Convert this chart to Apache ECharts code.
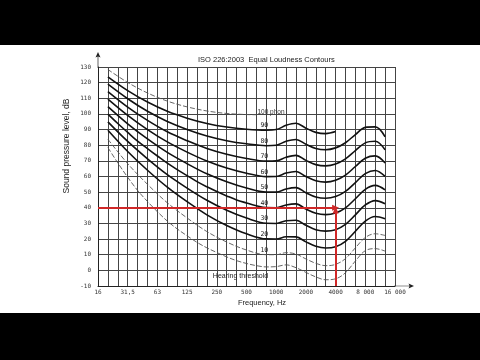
<!DOCTYPE html>
<html><head><meta charset="utf-8">
<script src="https://cdn.jsdelivr.net/npm/echarts@6/dist/echarts.min.js"></script>
<style>
html,body{margin:0;padding:0;background:#000;}
#wrap{position:relative;width:480px;height:360px;background:#000;overflow:hidden;}
#paper{position:absolute;left:0;top:45px;width:480px;height:268px;background:#fff;}
#chart{position:absolute;left:0;top:0;width:480px;height:360px;}
</style></head><body>
<div id="wrap"><div id="paper"></div><div id="chart"></div></div>
<script>
const N = null;
const frequencies = ['16','20','25','31.5','40','50','63','80','100','125','160','200','250','315','400','500','630','800','1000','1250','1600','2000','2500','3150','4000','5000','6300','8000','10000','12500','16000'];
const xTickFreqs  = ['16','31.5','63','125','250','500','1000','2000','4000','8000','16000'];
const xTickLabels = ['16','31,5','63','125','250','500','1000','2000','4000','8 000','16 000'];

const threshold = [N,78.5,68.7,59.5,51.1,44.0,37.5,31.5,26.5,22.1,17.9,14.4,11.4,8.6,6.2,4.4,3.0,2.2,2.4,3.5,1.7,-1.3,-4.2,-6.0,-5.4,-1.5,6.0,12.6,13.9,12.3,N];
const phon10  = [N,83.8,N,68.2,N,55.0,N,43.2,N,33.5,N,24.8,N,18.1,N,13.0,N,10.0,10.0,11.3,10.4,7.3,4.5,3.0,3.8,7.5,14.4,21.0,23.4,22.3,N];
const phon20  = [N,89.6,N,76.0,N,64.0,N,53.2,N,43.9,N,35.5,N,28.7,N,23.4,N,20.1,20.0,21.5,21.4,18.2,15.4,14.3,15.1,18.6,25.0,31.5,34.4,33.0,N];
const phon30  = [N,94.9,N,82.4,N,71.3,N,61.2,N,52.6,N,44.8,N,38.4,N,33.4,N,30.1,30.0,31.7,32.0,28.8,26.0,25.1,26.0,29.4,35.5,41.8,44.6,42.6,N];
const phon40  = [N,99.9,93.9,88.2,82.6,77.8,73.1,68.5,64.4,60.6,56.7,53.4,50.4,47.6,45.0,43.1,41.3,40.1,40.0,41.8,42.5,39.2,36.5,35.6,36.7,40.0,45.8,51.8,54.3,51.5,N];
const phon50  = [N,104.7,N,93.7,N,84.0,N,75.4,N,68.2,N,61.7,N,56.6,N,52.6,N,50.0,50.0,52.0,52.9,49.6,46.9,46.1,47.2,50.5,56.1,61.8,63.8,60.1,N];
const phon60  = [N,109.5,N,99.1,N,90.0,N,82.1,N,75.6,N,69.9,N,65.4,N,62.1,N,59.9,60.0,62.2,63.2,60.0,57.3,56.4,57.6,60.9,66.4,71.7,73.2,68.6,N];
const phon70  = [N,114.3,N,104.4,N,95.9,N,88.6,N,82.9,N,77.9,N,74.2,N,71.5,N,69.8,70.0,72.3,73.5,70.3,67.6,66.8,68.0,71.3,76.6,81.5,82.5,77.0,N];
const phon80  = [N,119.0,N,109.7,N,101.7,N,95.2,N,90.1,N,85.9,N,82.9,N,80.9,N,79.7,80.0,82.5,83.7,80.6,77.9,77.1,78.3,81.6,86.8,91.4,91.7,85.4,N];
const phon90  = [N,123.7,N,114.9,N,107.6,N,101.7,N,97.3,N,93.9,N,91.6,N,90.2,N,89.6,90.0,92.7,94.0,90.9,88.2,87.4,88.7,N,N,N,N,N,N];
const phon100 = [N,128.4,N,120.1,N,113.4,N,108.2,N,104.5,N,101.9,N,100.3,N,99.6,99.5,N,N,N,N,N,N,N,N,N,N,N,N,N,N];

const markerLevel = 40;
const markerFreq = '4000';
const markerStartFreq = '16';
const markerTip = 38.6;

const curves = [
  {name:'Hearing threshold', data:threshold, thin:true, at:'500', text:'Hearing threshold', kind:'thr'},
  {name:'10 phon', data:phon10, thin:true, at:'800', text:'10', kind:'ph'},
  {name:'20 phon', data:phon20, thin:false, at:'800', text:'20', kind:'ph'},
  {name:'30 phon', data:phon30, thin:false, at:'800', text:'30', kind:'ph'},
  {name:'40 phon', data:phon40, thin:false, at:'800', text:'40', kind:'ph'},
  {name:'50 phon', data:phon50, thin:false, at:'800', text:'50', kind:'ph'},
  {name:'60 phon', data:phon60, thin:false, at:'800', text:'60', kind:'ph'},
  {name:'70 phon', data:phon70, thin:false, at:'800', text:'70', kind:'ph'},
  {name:'80 phon', data:phon80, thin:false, at:'800', text:'80', kind:'ph'},
  {name:'90 phon', data:phon90, thin:false, at:'800', text:'90', kind:'ph'},
  {name:'100 phon', data:phon100, thin:true, at:'630', text:'100 phon', kind:'top'}
];

function labelFor(c){
  if (c.kind === 'thr') return {show:true, formatter:c.text, position:'bottom', distance:9, offset:[-6,0], fontSize:7, color:'#222', fontFamily:'Liberation Sans'};
  if (c.kind === 'top') return {show:true, formatter:c.text, position:'right', distance:1, offset:[0,-3], fontSize:6.5, color:'#333', fontFamily:'Liberation Sans'};
  return {show:true, formatter:c.text, position:'top', distance:1, offset:[-2,0], fontSize:6.5, color:'#222', fontFamily:'DejaVu Sans Mono'};
}

const series = curves.map(c => {
  const li = frequencies.indexOf(c.at);
  return {
    name:c.name, type:'line', smooth:0.35, connectNulls:true,
    showSymbol:true, symbol:'circle', symbolSize:0, silent:true,
    lineStyle: c.thin ? {color:'#555', width:0.9, type:[5,2]} : {color:'#111', width:1.6},
    label:{show:false},
    data: c.data.map((v,i) => i === li ? {value:v, label:labelFor(c)} : v)
  };
});

series.push({
  type:'line', data:[], silent:true,
  markLine:{
    silent:true, animation:false,
    symbol:['none','triangle'], symbolSize:[6,7],
    lineStyle:{color:'#d02828', width:2, type:'solid'},
    label:{show:false},
    data:[
      [{coord:[markerStartFreq, markerLevel]},{coord:[markerFreq, markerLevel]}],
      [{coord:[markerFreq, -10]},{coord:[markerFreq, markerTip]}]
    ]
  }
});

const arrowY = 'path://M5,0L10,11L5.7,9L5.7,32L4.3,32L4.3,9L0,11Z';
const arrowX = 'path://M5,0L10,11L5.7,9L5.7,40L4.3,40L4.3,9L0,11Z';

const chart = echarts.init(document.getElementById('chart'), null, {renderer:'canvas'});
chart.setOption({
  animation:false,
  backgroundColor:'transparent',
  title:{text:'ISO 226:2003  Equal Loudness Contours', left:193, top:51,
    textStyle:{fontSize:7.5, fontWeight:'normal', color:'#222', fontFamily:'Liberation Sans'}},
  grid:{left:98, top:67, width:297, height:219, containLabel:false},
  xAxis:{
    type:'category', data:frequencies, boundaryGap:false,
    axisLine:{onZero:false, lineStyle:{color:'#222', width:1}, symbol:['none', arrowX], symbolSize:[5,20], symbolOffset:[0,9]},
    axisTick:{show:false},
    axisLabel:{interval:(i,v)=>xTickFreqs.indexOf(v) >= 0, formatter:v=>xTickLabels[xTickFreqs.indexOf(v)] || '',
      fontSize:6, color:'#333', margin:3, fontFamily:'DejaVu Sans Mono'},
    splitLine:{show:true, interval:0, lineStyle:{color:'#444', width:1}}
  },
  yAxis:{
    type:'value', min:-10, max:130, interval:10,
    axisLine:{show:true, lineStyle:{color:'#222', width:1}, symbol:['none', arrowY], symbolSize:[5,16], symbolOffset:[0,7]},
    axisTick:{show:false},
    axisLabel:{fontSize:6, color:'#333', margin:7, fontFamily:'DejaVu Sans Mono'},
    splitLine:{show:true, lineStyle:{color:'#444', width:1}}
  },
  graphic:[
    {type:'text', x:67, y:146, rotation:Math.PI/2, silent:true,
      style:{text:'Sound pressure level, dB', fontSize:8.5, fill:'#222', fontFamily:'Liberation Sans', textAlign:'center', textVerticalAlign:'middle'}},
    {type:'text', x:262, y:303, silent:true,
      style:{text:'Frequency, Hz', fontSize:7.5, fill:'#222', fontFamily:'Liberation Sans', textAlign:'center', textVerticalAlign:'middle'}}
  ],
  series:series
});
</script>
</body></html>
